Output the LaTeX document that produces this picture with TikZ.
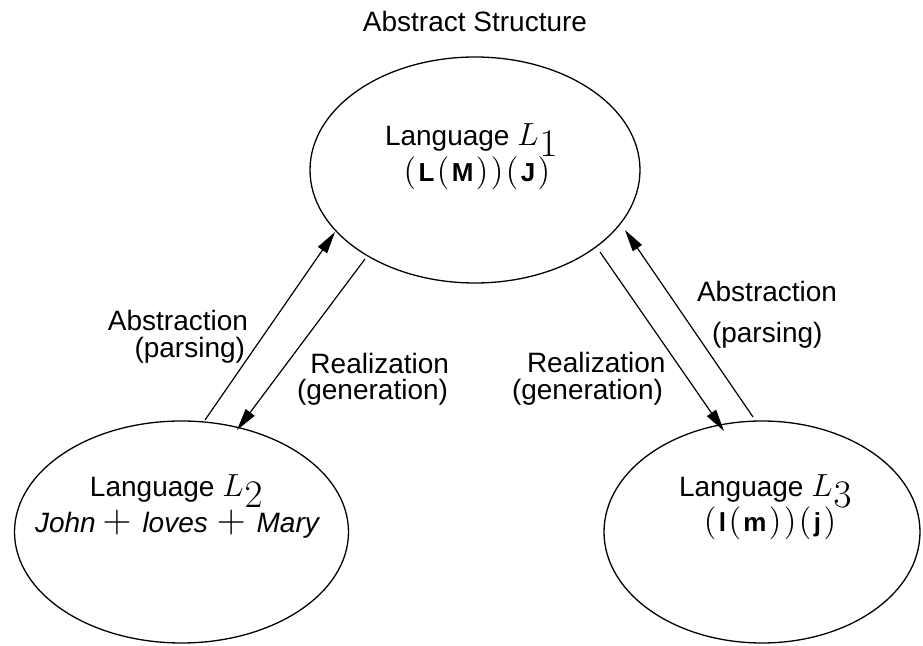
\RequirePackage{fix-cm}
\documentclass[tikz,border=0pt]{standalone}
\usepackage[no-math]{fontspec}
\setmainfont{Liberation Sans}
\usetikzlibrary{arrows.meta,shapes.geometric}
\newcommand\Lsub[1]{{\fontsize{16}{16}\selectfont$L$}\hspace{0.5pt}\raisebox{-5.5pt}{\fontsize{19.5}{20}\selectfont$#1$}}
\newcommand\mpar[1]{{\fontsize{16.5}{16}\selectfont$#1$}}
\newcommand\bsf[1]{{\fontsize{13}{13}\selectfont\bfseries #1}}
\newcommand\mplus{{\fontsize{20}{20}\selectfont$+$}}
\newcommand\kk{\hspace{1.2pt}}
\begin{document}
\begin{tikzpicture}[x=0.5pt,y=-0.5pt,
  ell/.style={draw,ellipse,line width=0.65pt,inner sep=0pt,outer sep=0pt},
  txt/.style={inner sep=0pt,outer sep=0pt,font=\fontsize{14}{16}\selectfont},
  arr/.style={line width=0.6pt,-{Triangle[length=11pt,width=5.5pt]}}]
\useasboundingbox (0,0) rectangle (923,646);
% ellipses
\node[ell,minimum width=165pt,minimum height=113pt] (top) at (475,170) {};
\node[ell,minimum width=167pt,minimum height=111pt] (left) at (181.5,532) {};
\node[ell,minimum width=158pt,minimum height=111pt] (right) at (762,532) {};
% title
\node[txt,anchor=base] (title) at (475,32) {Abstract Structure};
% ellipse texts
\node[txt,anchor=base west] (t1) at (385,146) {Language \Lsub{1}};
\node[txt,anchor=base] (t2) at (477,182) {\mpar{(}\kk\bsf{L}\kk\mpar{(}\kk\bsf{M}\kk\mpar{)}\kk\mpar{)}\kk\mpar{(}\kk\bsf{J}\kk\mpar{)}};
\node[txt,anchor=base west] (l1) at (90,497) {Language \Lsub{2}};
\node[txt,anchor=base west] (l2) at (35,533) {\itshape John\hspace{3.5pt}\mplus\hspace{5.5pt}loves\hspace{4.5pt}\mplus\hspace{5.5pt}Mary};
\node[txt,anchor=base west] (r1) at (679,497) {Language \Lsub{3}};
\node[txt,anchor=base] (r2) at (770,532) {\mpar{(}\kk\bsf{l}\kk\mpar{(}\kk\bsf{m}\kk\mpar{)}\kk\mpar{)}\kk\mpar{(}\kk\bsf{j}\kk\mpar{)}};
% arrow end points
\coordinate (la1) at (205,420); \coordinate (la2) at (335,232);
\coordinate (lr1) at (365,259); \coordinate (lr2) at (237,430);
\coordinate (rr1) at (600,252); \coordinate (rr2) at (724,431);
\coordinate (ra1) at (753,417); \coordinate (ra2) at (625,230);
\draw[arr] (la1) -- (la2);
\draw[arr] (lr1) -- (lr2);
\draw[arr] (rr1) -- (rr2);
\draw[arr] (ra1) -- (ra2);
% labels
\node[txt,anchor=base east] (lab1a) at (248,331) {Abstraction};
\node[txt,anchor=base east] (lab1b) at (245,358) {(parsing)};
\node[txt,anchor=base east] (lab2a) at (449,374) {Realization};
\node[txt,anchor=base east] (lab2b) at (448,400) {(generation)};
\node[txt,anchor=base west] (lab3a) at (527,373) {Realization};
\node[txt,anchor=base west] (lab3b) at (512,400) {(generation)};
\node[txt,anchor=base west] (lab4a) at (697,302) {Abstraction};
\node[txt,anchor=base west] (lab4b) at (712,343) {(parsing)};
\end{tikzpicture}
\end{document}
